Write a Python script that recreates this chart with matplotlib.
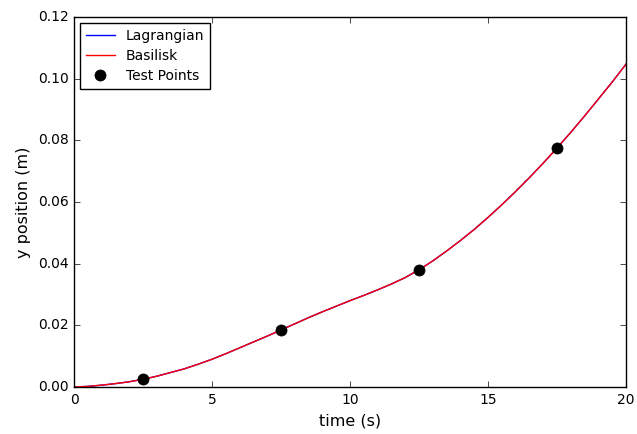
import matplotlib
matplotlib.use('Agg')
import matplotlib.pyplot as plt

# time (s) and y position (m)
time = [0, 0.5, 1, 1.5, 2, 2.5, 3, 3.5, 4, 4.5, 5, 5.5, 6, 6.5, 7, 7.5, 8, 8.5, 9, 9.5,
        10, 10.5, 11, 11.5, 12, 12.5, 13, 13.5, 14, 14.5, 15, 15.5, 16, 16.5, 17, 17.5,
        18, 18.5, 19, 19.5, 20]
y_lagrangian = [0.0, 0.0002, 0.0006, 0.0011, 0.0017, 0.0025, 0.0035, 0.0047, 0.0059, 0.0074,
                0.0090, 0.0108, 0.0127, 0.0146, 0.0165, 0.0185, 0.0205, 0.0225, 0.0244, 0.0262,
                0.0280, 0.0297, 0.0315, 0.0334, 0.0355, 0.0380, 0.0409, 0.0441, 0.0475, 0.0511,
                0.0550, 0.0591, 0.0634, 0.0679, 0.0726, 0.0775, 0.0826, 0.0879, 0.0934, 0.0989,
                0.1047]
y_basilisk = [0.0, 0.0002, 0.0006, 0.0011, 0.0017, 0.0025, 0.0035, 0.0047, 0.0059, 0.0074,
              0.0090, 0.0108, 0.0127, 0.0146, 0.0165, 0.0185, 0.0205, 0.0225, 0.0244, 0.0262,
              0.0280, 0.0297, 0.0315, 0.0334, 0.0355, 0.0380, 0.0409, 0.0441, 0.0475, 0.0511,
              0.0550, 0.0591, 0.0634, 0.0679, 0.0726, 0.0775, 0.0826, 0.0879, 0.0934, 0.0989,
              0.1047]

test_t = [2.5, 7.5, 12.5, 17.5]
test_y = [0.0025, 0.0185, 0.038, 0.0775]

plt.style.use('classic')
fig = plt.figure(figsize=(6.37, 4.34), dpi=100, facecolor='white')
ax = fig.add_axes([0.1162, 0.1083, 0.8665, 0.8525])

ax.plot(time, y_lagrangian, color='blue', lw=1.0, label='Lagrangian')
ax.plot(time, y_basilisk, color='red', lw=1.0, label='Basilisk')
ax.plot(test_t, test_y, 'o', color='black', markersize=8, label='Test Points')

ax.set_xlim(0, 20)
ax.set_ylim(0, 0.12)
ax.set_xticks([0, 5, 10, 15, 20])
ax.set_yticks([0.0, 0.02, 0.04, 0.06, 0.08, 0.10, 0.12])
ax.set_yticklabels(['0.00', '0.02', '0.04', '0.06', '0.08', '0.10', '0.12'])
ax.tick_params(labelsize=10, pad=4)
ax.set_xlabel('time (s)', fontsize=11.5)
ax.set_ylabel('y position (m)', fontsize=11.5)
ax.legend(loc='upper left', numpoints=1, fontsize=10, labelspacing=0.45,
          borderaxespad=0.45, handlelength=2.1)

fig.savefig('out.png', dpi=100, facecolor='white')
plt.close()
